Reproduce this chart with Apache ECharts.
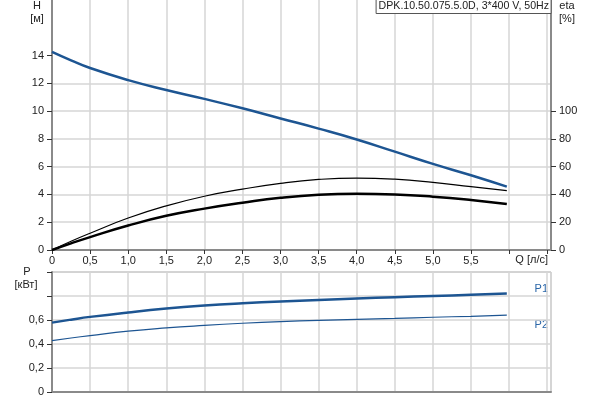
<!DOCTYPE html>
<html>
<head>
<meta charset="utf-8">
<script src="https://cdn.jsdelivr.net/npm/echarts@6/dist/echarts.min.js"></script>
<style>html,body{margin:0;padding:0;background:#fff}#c{width:600px;height:400px}</style>
</head>
<body>
<div id="c"></div>
<script>
// ---- data ----
var q      = [0, 0.25, 0.5, 1.0, 1.5, 2.0, 2.5, 3.0, 3.5, 4.0, 4.5, 5.0, 5.5, 5.97];
var headH  = [14.27, 13.66, 13.1, 12.23, 11.52, 10.88, 10.2, 9.47, 8.74, 7.96, 7.08, 6.2, 5.38, 4.56];
var etaThin  = [0, 6.3, 12.1, 23, 31.8, 38.7, 43.8, 48, 50.8, 51.8, 51, 48.7, 45.6, 42.7];
var etaThick = [0, 4.8, 9.3, 17.6, 24.6, 29.8, 34, 37.6, 39.8, 40.5, 40, 38.4, 36, 33.1];
var p1 = [0.578, 0.603, 0.626, 0.663, 0.695, 0.72, 0.739, 0.754, 0.767, 0.779, 0.79, 0.80, 0.81, 0.82];
var p2 = [0.428, 0.45, 0.47, 0.507, 0.534, 0.555, 0.573, 0.587, 0.597, 0.606, 0.614, 0.623, 0.631, 0.64];
var qTicks = [0, 0.5, 1.0, 1.5, 2.0, 2.5, 3.0, 3.5, 4.0, 4.5, 5.0, 5.5, 6.0, 6.5];
var qLabels = [0, 0.5, 1.0, 1.5, 2.0, 2.5, 3.0, 3.5, 4.0, 4.5, 5.0, 5.5];
var hLabels = [0, 2, 4, 6, 8, 10, 12, 14];
var etaLabels = [0, 20, 40, 60, 80, 100];
var pTicks = [0, 0.2, 0.4, 0.6, 0.8, 1.0];
var pLabels = [0, 0.2, 0.4, 0.6];
var titleText = 'DPK.10.50.075.5.0D, 3*400 V, 50Hz';

function pairs(xs, ys){ return xs.map(function(x,i){ return [x, ys[i]]; }); }
function comma(v){ return v === 0 ? '0' : v.toFixed(1).replace('.', ','); }

var FONT = 'Liberation Sans';
var TXT = '#222';
var AX = '#8a8a8a';
var GRID = '#d6d6d6';
var BLUE = '#1d5592';
var SM = 0.5;

var chart = echarts.init(document.getElementById('c'), null, {renderer:'canvas'});
chart.setOption({
  animation: false,
  textStyle: {fontFamily: FONT},
  title: {
    text: titleText, right: 49, top: -1,
    padding: [2, 2, 2, 3],
    borderColor: '#555', borderWidth: 1, backgroundColor: '#fff',
    textStyle: {fontSize: 10.6, fontWeight: 'normal', color: TXT, fontFamily: FONT}
  },
  grid: [
    {left: 52, right: 49, top: 0, height: 250},
    {left: 52, right: 49, top: 272, height: 120, show: true, borderColor: '#a8a8a8', borderWidth: 1}
  ],
  xAxis: [
    {gridIndex: 0, type: 'value', min: 0, max: 6.55, interval: 0.5,
     axisLine: {show: true, lineStyle: {color: AX, width: 2}},
     axisTick: {show: true, customValues: qTicks, length: 4, lineStyle: {color: '#333'}},
     axisLabel: {customValues: qLabels, formatter: comma, fontSize: 11, color: TXT, margin: 5, fontFamily: FONT},
     splitLine: {show: true, lineStyle: {color: GRID, width: 1.5}}},
    {gridIndex: 1, type: 'value', min: 0, max: 6.55, interval: 0.5,
     axisLine: {show: true, lineStyle: {color: AX, width: 2}},
     axisTick: {show: false}, axisLabel: {show: false},
     splitLine: {show: true, lineStyle: {color: GRID, width: 1.5}}}
  ],
  yAxis: [
    {gridIndex: 0, type: 'value', min: 0, max: 18, interval: 2, position: 'left',
     axisLine: {show: true, lineStyle: {color: AX, width: 2}},
     axisTick: {show: true, customValues: hLabels, length: 5, lineStyle: {color: '#333'}},
     axisLabel: {customValues: hLabels, fontSize: 11, color: TXT, margin: 8, fontFamily: FONT},
     splitLine: {show: true, showMaxLine: false, lineStyle: {color: GRID, width: 1.5}}},
    {gridIndex: 0, type: 'value', min: 0, max: 180, interval: 20, position: 'right',
     axisLine: {show: true, lineStyle: {color: AX, width: 2}},
     axisTick: {show: true, customValues: etaLabels, length: 5, lineStyle: {color: '#333'}},
     axisLabel: {customValues: etaLabels, fontSize: 11, color: TXT, margin: 8, fontFamily: FONT},
     splitLine: {show: false}},
    {gridIndex: 1, type: 'value', min: 0, max: 1.0, interval: 0.2, position: 'left',
     axisLine: {show: true, lineStyle: {color: AX, width: 2}},
     axisTick: {show: true, customValues: pTicks, length: 5, lineStyle: {color: '#333'}},
     axisLabel: {customValues: pLabels, formatter: comma, fontSize: 11, color: TXT, margin: 8, fontFamily: FONT},
     splitLine: {show: true, showMaxLine: false, lineStyle: {color: GRID, width: 1.5}}}
  ],
  series: [
    {name: 'eta', type: 'line', xAxisIndex: 0, yAxisIndex: 1, data: pairs(q, etaThin), smooth: SM, showSymbol: false,
     lineStyle: {color: '#000', width: 1.2}},
    {name: 'eta total', type: 'line', xAxisIndex: 0, yAxisIndex: 1, data: pairs(q, etaThick), smooth: SM, showSymbol: false,
     lineStyle: {color: '#000', width: 2.5}},
    {name: 'H', type: 'line', xAxisIndex: 0, yAxisIndex: 0, data: pairs(q, headH), smooth: SM, showSymbol: false,
     lineStyle: {color: BLUE, width: 2.5}},
    {name: 'P1', type: 'line', xAxisIndex: 1, yAxisIndex: 2, data: pairs(q, p1), smooth: SM, showSymbol: false,
     lineStyle: {color: BLUE, width: 2.5}},
    {name: 'P2', type: 'line', xAxisIndex: 1, yAxisIndex: 2, data: pairs(q, p2), smooth: SM, showSymbol: false,
     lineStyle: {color: BLUE, width: 1.2}}
  ],
  graphic: [
    {type: 'text', x: 37, y: 6, style: {text: 'H', font: '11px "Liberation Sans"', fill: TXT, textAlign: 'center', textVerticalAlign: 'middle'}},
    {type: 'text', x: 37, y: 19, style: {text: '[м]', font: '11px "Liberation Sans"', fill: TXT, textAlign: 'center', textVerticalAlign: 'middle'}},
    {type: 'text', x: 567, y: 6, style: {text: 'eta', font: '11px "Liberation Sans"', fill: TXT, textAlign: 'center', textVerticalAlign: 'middle'}},
    {type: 'text', x: 567, y: 19, style: {text: '[%]', font: '11px "Liberation Sans"', fill: TXT, textAlign: 'center', textVerticalAlign: 'middle'}},
    {type: 'text', x: 548, y: 260, style: {text: 'Q [л/с]', font: '11px "Liberation Sans"', fill: TXT, textAlign: 'right', textVerticalAlign: 'middle'}},
    {type: 'text', x: 27, y: 272, style: {text: 'P', font: '11px "Liberation Sans"', fill: TXT, textAlign: 'center', textVerticalAlign: 'middle'}},
    {type: 'text', x: 26, y: 285, style: {text: '[кВт]', font: '11px "Liberation Sans"', fill: TXT, textAlign: 'center', textVerticalAlign: 'middle'}},
    {type: 'text', x: 548, y: 289, style: {text: 'P1', font: '11px "Liberation Sans"', fill: '#2a66a8', textAlign: 'right', textVerticalAlign: 'middle'}},
    {type: 'text', x: 548, y: 325, style: {text: 'P2', font: '11px "Liberation Sans"', fill: '#2a66a8', textAlign: 'right', textVerticalAlign: 'middle'}}
  ]
});
</script>
</body>
</html>
